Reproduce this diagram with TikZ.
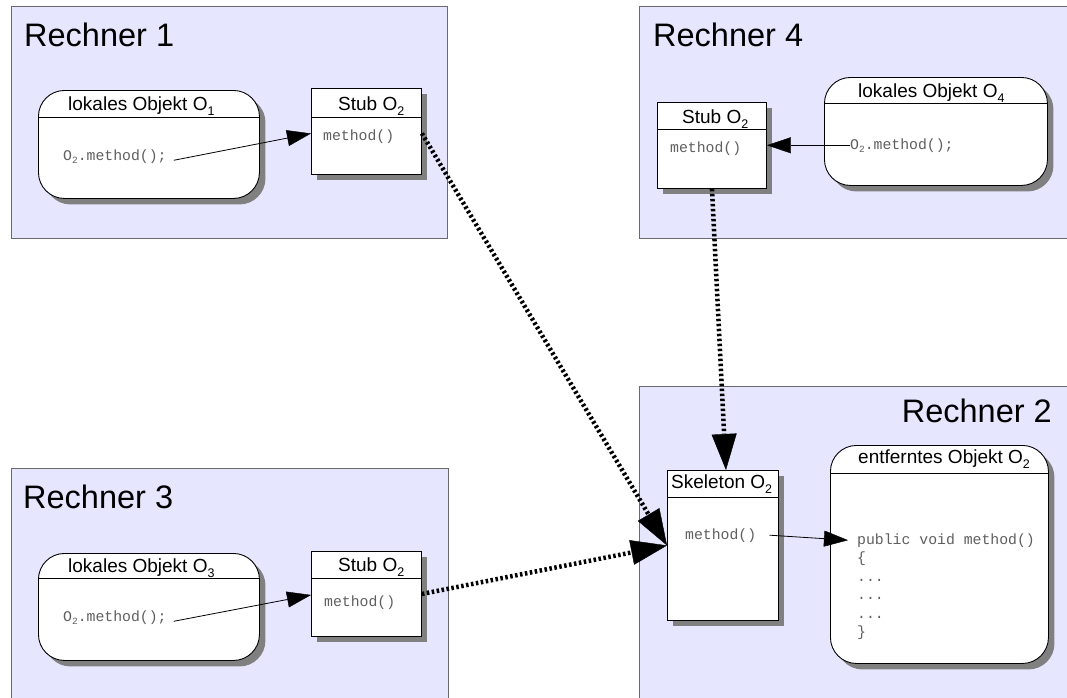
\documentclass[tikz,border=0pt]{standalone}
\usepackage{fontspec}
\setmainfont{Liberation Sans}
\newfontfamily\monofont{Liberation Mono}
\usetikzlibrary{arrows.meta,shadows,calc}
\definecolor{rechnerfill}{RGB}{230,230,255}
\definecolor{rechnerline}{RGB}{105,105,110}
\definecolor{codegray}{RGB}{95,95,95}
\definecolor{shadowgray}{RGB}{128,128,128}
\newcommand{\hsub}[1]{\raisebox{-0.28em}{\fontsize{12.5}{12.5}\selectfont #1}}
\newcommand{\csub}[1]{\raisebox{-0.22em}{\fontsize{9.5}{9.5}\selectfont #1}}
\tikzset{
  rechner/.style={draw=rechnerline, fill=rechnerfill, line width=1.1pt, anchor=north west, inner sep=0pt},
  objbox/.style={draw=black, fill=white, line width=0.9pt, rounded corners=26pt, anchor=north west, inner sep=0pt,
    drop shadow={shadow xshift=6pt, shadow yshift=-6pt, fill=shadowgray, opacity=1}},
  stubbox/.style={draw=black, fill=white, line width=0.9pt, anchor=north west, inner sep=0pt,
    drop shadow={shadow xshift=6pt, shadow yshift=-6pt, fill=shadowgray, opacity=1}},
  hline/.style={draw=black, line width=0.9pt},
  titletext/.style={anchor=base west, inner sep=0pt, font=\fontsize{32.5}{32.5}\selectfont},
  hdr/.style={anchor=base west, inner sep=0pt, font=\fontsize{19}{19}\selectfont},
  code/.style={anchor=base west, inner sep=0pt, text=codegray, font=\monofont\fontsize{14.8}{14.8}\selectfont},
  thinarrow/.style={line width=0.8pt, -{Triangle[length=24pt,width=16pt,line width=0.4pt]}},
  remote/.style={line width=4.5pt, dash pattern=on 2.5pt off 2.5pt,
    -{Triangle[length=36pt,width=25pt,line width=0.4pt]}}
}
\begin{document}
\begin{tikzpicture}[x=1pt,y=-1pt]
\useasboundingbox (0,0) rectangle (1067,697);
\clip (0,0) rectangle (1067,697);
\fill[white] (0,0) rectangle (1067,697);

% computers
\node[rechner, minimum width=436pt, minimum height=232pt] (r1) at (11,6) {};
\node[rechner, minimum width=441pt, minimum height=232pt] (r4) at (639,6) {};
\node[rechner, minimum width=441pt, minimum height=330pt] (r2) at (639,386) {};
\node[rechner, minimum width=437pt, minimum height=250pt] (r3) at (11,468) {};

\node[titletext] (t1) at (24,46) {Rechner 1};
\node[titletext] (t4) at (653,46) {Rechner 4};
\node[titletext] (t3) at (23,508) {Rechner 3};
\node[titletext, anchor=base east] (t2) at (1052,422) {Rechner 2};

% Rechner 1
\node[objbox, minimum width=221pt, minimum height=108pt] (lo1) at (38,90) {};
\draw[hline] (38,117) -- (259,117);
\node[hdr] (lo1h) at (68,110) {lokales Objekt O\hsub{1}};
\node[code] (c1) at (63,160) {O\csub{2}.method();};
\node[stubbox, minimum width=110pt, minimum height=86pt] (st1) at (311,88) {};
\draw[hline] (311,117) -- (421,117);
\node[hdr] (st1h) at (338,110) {Stub O\hsub{2}};
\node[code] (m1) at (323,140) {method()};

% Rechner 4
\node[stubbox, minimum width=109pt, minimum height=86pt] (st4) at (657,102) {};
\draw[hline] (657,129) -- (766,129);
\node[hdr] (st4h) at (682,123) {Stub O\hsub{2}};
\node[code] (m4) at (670,152) {method()};
\node[objbox, minimum width=223pt, minimum height=108pt] (lo4) at (824,77) {};
\draw[hline] (824,103) -- (1047,103);
\node[hdr] (lo4h) at (858,97) {lokales Objekt O\hsub{4}};
\node[code] (c4) at (850,149) {O\csub{2}.method();};

% Rechner 3
\node[objbox, minimum width=221pt, minimum height=107pt] (lo3) at (38,553) {};
\draw[hline] (38,578) -- (259,578);
\node[hdr] (lo3h) at (68,572) {lokales Objekt O\hsub{3}};
\node[code] (c3) at (63,621) {O\csub{2}.method();};
\node[stubbox, minimum width=110pt, minimum height=85pt] (st3) at (311,551) {};
\draw[hline] (311,578) -- (421,578);
\node[hdr] (st3h) at (338,571) {Stub O\hsub{2}};
\node[code] (m3) at (324,606) {method()};

% Rechner 2
\node[stubbox, minimum width=111pt, minimum height=150pt] (sk) at (667,470) {};
\draw[hline] (667,497) -- (778,497);
\node[hdr] (skh) at (671,488) {Skeleton O\hsub{2}};
\node[code] (sm) at (685,539) {method()};
\node[objbox, minimum width=218pt, minimum height=218pt] (ent) at (830,445) {};
\draw[hline] (830,473) -- (1048,473);
\node[hdr] (enth) at (858,463) {entferntes Objekt O\hsub{2}};
\node[code] (pub) at (857,544) {public void method()};
\node[code] (l2) at (857,562.5) {\{};
\node[code] (l3) at (857,581) {...};
\node[code] (l4) at (857,599.5) {...};
\node[code] (l5) at (857,618) {...};
\node[code] (l6) at (857,636.5) {\}};

% local calls
\draw[thinarrow] ([xshift=7pt,yshift=-4pt]c1.east) -- ([yshift=-2pt]st1.west);
\draw[thinarrow] ([xshift=7pt,yshift=-4pt]c3.east) -- ([yshift=-1pt]st3.west);
\draw[thinarrow] (c4.west) -- (st4.east |- c4.west);
\draw[thinarrow] ([xshift=13pt]sm.east) -- ([xshift=-9pt]pub.west);

% remote calls
\draw[remote] ([yshift=-2pt]st1.east) -- (sk.west);
\draw[remote] (st3.east) -- (sk.west);
\draw[remote] (st4.south) -- ([xshift=3pt]sk.north);
\end{tikzpicture}
\end{document}
